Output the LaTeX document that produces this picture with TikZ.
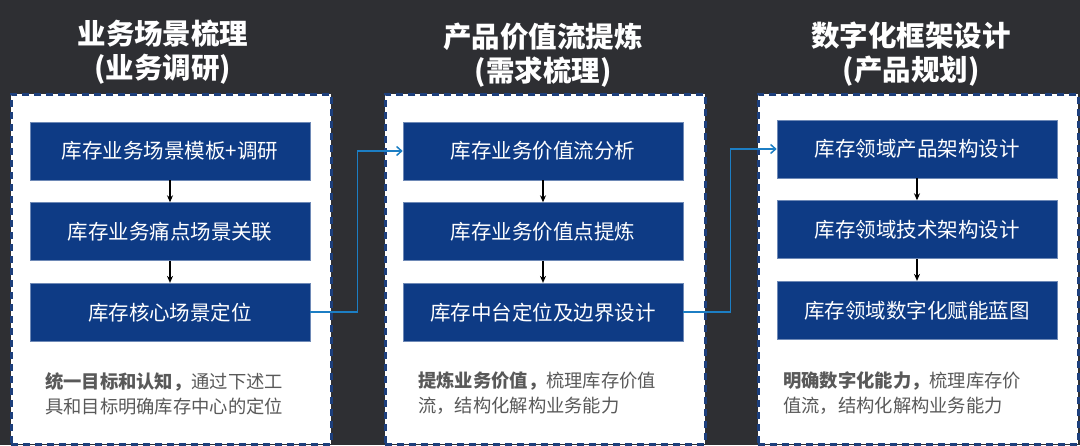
\documentclass[tikz,border=0pt]{standalone}
\usepackage{fontspec}
\newfontfamily\cjk{Noto Sans CJK SC}
\usetikzlibrary{positioning,arrows.meta}
\definecolor{bgdark}{HTML}{2E2F33}
\definecolor{boxblue}{HTML}{0E3B85}
\definecolor{panelblue}{HTML}{1D3F7C}
\definecolor{linkblue}{HTML}{1C7EC4}
\definecolor{notegray}{HTML}{595959}
\tikzset{
  panel/.style={draw=panelblue, line width=2.5pt, dash pattern=on 7pt off 5pt,
    fill=white, minimum width=320pt, minimum height=350pt, anchor=north west, inner sep=0pt},
  stepbox/.style={fill=boxblue, draw=boxblue!60!white, line width=0.6pt,
    minimum width=280pt, minimum height=58pt, inner sep=0pt, text=white,
    font=\cjk\fontsize{20.5}{24}\selectfont},
  heading/.style={text=white, align=center, font=\cjk\bfseries\fontsize{28.5}{34}\selectfont},
  note/.style={text=notegray, align=left, anchor=north west, inner sep=0pt,
    font=\cjk\fontsize{18.3}{25}\selectfont},
  down/.style={-{Stealth[length=7pt,width=6pt]}, line width=1.4pt, black},
  link/.style={-{Straight Barb[length=5pt,width=9pt]}, line width=1.5pt, linkblue}
}
\begin{document}
\begin{tikzpicture}[x=1pt,y=-1pt]
    \fill[bgdark] (0,0) rectangle (1080,445);
    \useasboundingbox (0,0) rectangle (1080,445);

    % panels
    \node[panel] (p1) at (10,93) {};
    \node[panel] (p2) at (384,93) {};
    \node[panel] (p3) at (757,93) {};

    % headings
    \node[heading] (h1) at (163,52) {业务场景梳理\\(业务调研)};
    \node[heading] (h2) at (543,55) {产品价值流提炼\\(需求梳理)};
    \node[heading] (h3) at (911,54) {数字化框架设计\\(产品规划)};

    % scene analysis
    \node[stepbox] (b11) at (170,151) {库存业务场景模板+调研};
    \node[stepbox, below=22pt of b11] (b12) {库存业务痛点场景关联};
    \node[stepbox, below=22pt of b12] (b13) {库存核心场景定位};

    % value stream
    \node[stepbox] (b21) at (543,151) {库存业务价值流分析};
    \node[stepbox, below=22pt of b21] (b22) {库存业务价值点提炼};
    \node[stepbox, below=22pt of b22] (b23) {库存中台定位及边界设计};

    % digital framework
    \node[stepbox] (b31) at (917,149) {库存领域产品架构设计};
    \node[stepbox, below=22pt of b31] (b32) {库存领域技术架构设计};
    \node[stepbox, below=22pt of b32] (b33) {库存领域数字化赋能蓝图};

    \draw[down] (b11) -- (b12);
    \draw[down] (b12) -- (b13);
    \draw[down] (b21) -- (b22);
    \draw[down] (b22) -- (b23);
    \draw[down] (b31) -- (b32);
    \draw[down] (b32) -- (b33);

    \draw[link] (b13.east) -- ++(47,0) |- (b21.west);
    \draw[link] (b23.east) -- ++(47,0) |- (b31.west);

    % notes
    \node[note] (n1) at (45,372) {\textbf{统一目标和认知，}通过下述工\\具和目标明确库存中心的定位};
    \node[note] (n2) at (418,372) {\textbf{提炼业务价值，}梳理库存价值\\流，结构化解构业务能力};
    \node[note] (n3) at (783,372) {\textbf{明确数字化能力，}梳理库存价\\值流，结构化解构业务能力};
\end{tikzpicture}
\end{document}
